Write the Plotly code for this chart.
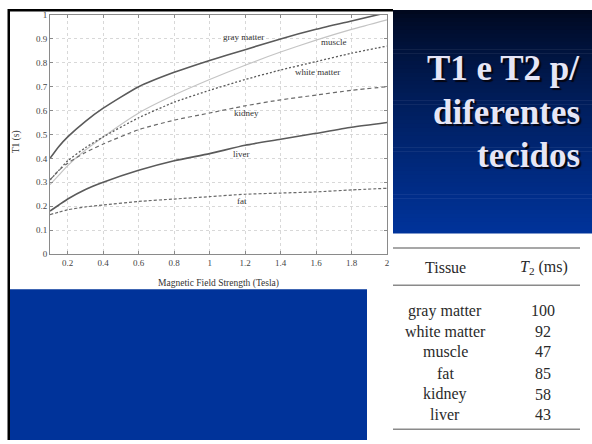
import plotly.graph_objects as go

W, H = 592, 444
L, R, T, B = 50, 387, 10, 254  # plot area pixels

field = [0.1, 0.15, 0.2, 0.3, 0.4, 0.6, 0.8, 1.0, 1.2, 1.4, 1.6, 1.8, 2.0]
gray_matter = [0.40, 0.45, 0.49, 0.555, 0.61, 0.70, 0.76, 0.81, 0.855, 0.90, 0.94, 0.975, 1.01]
muscle = [0.29, 0.33, 0.37, 0.435, 0.49, 0.59, 0.665, 0.73, 0.79, 0.845, 0.895, 0.94, 0.98]
white_matter = [0.31, 0.35, 0.39, 0.445, 0.49, 0.57, 0.635, 0.685, 0.73, 0.77, 0.805, 0.84, 0.87]
kidney = [0.31, 0.35, 0.38, 0.425, 0.46, 0.52, 0.56, 0.59, 0.62, 0.645, 0.665, 0.685, 0.70]
liver = [0.18, 0.205, 0.23, 0.27, 0.30, 0.35, 0.39, 0.42, 0.455, 0.48, 0.505, 0.53, 0.55]
fat = [0.165, 0.175, 0.185, 0.197, 0.205, 0.22, 0.23, 0.24, 0.25, 0.255, 0.26, 0.268, 0.275]

series_names = ["gray matter", "muscle", "white matter", "kidney", "liver", "fat"]
series_vals = [gray_matter, muscle, white_matter, kidney, liver, fat]
series_color = ["#5a5a5a", "#c4c4c4", "#5a5a5a", "#6a6a6a", "#5a5a5a", "#6a6a6a"]
series_dash = ["solid", "solid", "2px,2px", "4px,3px", "solid", "3px,2px"]
series_width = [1.6, 1.2, 1.3, 1.2, 1.6, 1.2]

label_x = [1.19, 1.70, 1.61, 1.21, 1.18, 1.18]
label_y = [0.91, 0.885, 0.76, 0.59, 0.42, 0.22]

x_ticks = [0.2, 0.4, 0.6, 0.8, 1.0, 1.2, 1.4, 1.6, 1.8, 2.0]
x_ticktext = ["0.2", "0.4", "0.6", "0.8", "1", "1.2", "1.4", "1.6", "1.8", "2"]
y_ticks = [0, 0.1, 0.2, 0.3, 0.4, 0.5, 0.6, 0.7, 0.8, 0.9, 1.0]
y_ticktext = ["0", "0.1", "0.2", "0.3", "0.4", "0.5", "0.6", "0.7", "0.8", "0.9", "1"]

title_lines = ["T1 e T2 p/", "diferentes", "tecidos"]
table_header = ["Tissue", "<i>T</i><sub>2</sub> (ms)"]
tissues = ["gray matter", "white matter", "muscle", "fat", "kidney", "liver"]
t2_ms = [100, 92, 47, 85, 58, 43]


def px(x):
    return (x - L) / (R - L)


def py(y):
    return 1 - (y - T) / (B - T)


fig = go.Figure()
for name, vals, c, d, w in zip(series_names, series_vals, series_color, series_dash, series_width):
    fig.add_trace(go.Scatter(x=field, y=vals, mode="lines", name=name,
                             line=dict(color=c, dash=d, width=w, shape="spline", smoothing=0.6),
                             showlegend=False, cliponaxis=True, hoverinfo="skip"))

serif = "Liberation Serif, Times New Roman, serif"
anns = []


def ann(x, y, text, size, color, xanchor="center", shadow=None, **kw):
    f = dict(family=serif, size=size, color=color)
    if shadow:
        f["shadow"] = shadow
    anns.append(dict(x=px(x), y=py(y), xref="paper", yref="paper", text=text, showarrow=False,
                     xanchor=xanchor, yanchor="middle", font=f, **kw))


for name, lx, ly in zip(series_names, label_x, label_y):
    anns.append(dict(x=lx, y=ly, xref="x", yref="y", text=name, showarrow=False,
                     xanchor="center", yanchor="middle",
                     font=dict(family=serif, size=9, color="#333")))

ann(218, 284, "Magnetic Field Strength (Tesla)", 9.5, "#333")
ann(16, 140, "T1 (s)", 9.5, "#333", textangle=-90)

shapes = []
# black frame lines
shapes.append(dict(type="rect", xref="paper", yref="paper", x0=px(8), x1=px(393), y0=py(4), y1=py(6.5),
                   fillcolor="#000", line=dict(width=0), layer="above"))
shapes.append(dict(type="rect", xref="paper", yref="paper", x0=px(7.5), x1=px(10), y0=py(4), y1=py(444),
                   fillcolor="#000", line=dict(width=0), layer="above"))
# bottom-left blue block
shapes.append(dict(type="rect", xref="paper", yref="paper", x0=px(10), x1=px(367), y0=py(290), y1=py(444),
                   fillcolor="#00339a", line=dict(width=0), layer="above"))
# right gradient panel
top_c = (0, 8, 30)
bot_c = (0, 51, 154)
y0p, y1p = 5, 233
n = 57
for i in range(n):
    a = y0p + (y1p - y0p) * i / n
    b = y0p + (y1p - y0p) * (i + 1) / n + 0.6
    t = (i / (n - 1)) ** 0.8
    col = "rgb(%d,%d,%d)" % tuple(round(top_c[k] + (bot_c[k] - top_c[k]) * t) for k in range(3))
    shapes.append(dict(type="rect", xref="paper", yref="paper", x0=px(393), x1=px(592),
                       y0=py(a), y1=py(min(b, y1p)), fillcolor=col, line=dict(width=0), layer="above"))

# title text with shadow
base_y = [65, 110, 153]
for line, yy in zip(title_lines, base_y):
    ann(582, yy, "<b>%s</b>" % line, 35, "#e6e6f6", xanchor="right", shadow="2px 2px 1px #05050f")

# table rules
for yy in [248, 286, 433]:
    shapes.append(dict(type="line", xref="paper", yref="paper", x0=px(393), x1=px(580), y0=py(yy), y1=py(yy),
                       line=dict(color="#8a8a8a", width=1.5), layer="above"))
ann(445, 268, table_header[0], 16, "#2a2a2a")
ann(544, 268, table_header[1], 16, "#2a2a2a")
row_y = [312, 333, 354, 376, 397, 418]
for tis, v, yy in zip(tissues, t2_ms, row_y):
    ann(445, yy, tis, 16, "#2a2a2a")
    ann(543, yy, str(v), 16, "#2a2a2a")

axis_common = dict(showline=True, linecolor="#8a8a8a", linewidth=1, mirror="ticks", ticks="inside",
                   ticklen=3, tickcolor="#8a8a8a", showgrid=True, gridcolor="#d8d8d8", griddash="dot",
                   gridwidth=1, zeroline=False, tickfont=dict(family=serif, size=9, color="#444"))

fig.update_layout(
    width=W, height=H,
    margin=dict(l=L, r=W - R, t=T, b=H - B),
    paper_bgcolor="white", plot_bgcolor="white",
    xaxis=dict(range=[0.1, 2.0], tickvals=x_ticks, ticktext=x_ticktext, **axis_common),
    yaxis=dict(range=[0, 1.0], tickvals=y_ticks, ticktext=y_ticktext, **axis_common),
    annotations=anns, shapes=shapes,
)

fig.write_html("out.html", config={"displayModeBar": False},
               post_script="document.body.style.margin='0';document.body.style.overflow='hidden';")
